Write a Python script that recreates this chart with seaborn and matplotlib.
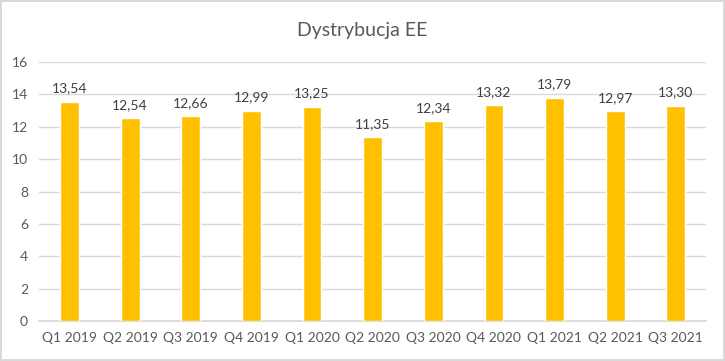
import matplotlib
matplotlib.use("Agg")
import matplotlib.pyplot as plt
import seaborn as sns
import pandas as pd

quarters = ["Q1 2019", "Q2 2019", "Q3 2019", "Q4 2019", "Q1 2020", "Q2 2020",
            "Q3 2020", "Q4 2020", "Q1 2021", "Q2 2021", "Q3 2021"]
values = [13.54, 12.54, 12.66, 12.99, 13.25, 11.35, 12.34, 13.32, 13.79, 12.97, 13.30]
y_ticks = [0, 2, 4, 6, 8, 10, 12, 14, 16]

sns.set_theme(style="white")
plt.rcParams["font.family"] = ["Lato", "DejaVu Sans"]

df = pd.DataFrame({"Kwartal": quarters, "Wartosc": values})

fig = plt.figure(figsize=(7.25, 3.61), dpi=100)
fig.patch.set_edgecolor("#D9D9D9")
fig.patch.set_linewidth(1.5)
ax = fig.add_axes([0.054, 0.111, 0.92, 0.717])

sns.barplot(data=df, x="Kwartal", y="Wartosc", color="#FFC000", width=0.31,
            saturation=1, ax=ax, zorder=3)

for i, v in enumerate(values):
    ax.text(i, v + 0.45, f"{v:.2f}".replace(".", ","), ha="center", va="bottom",
            fontsize=10, color="#404040")

ax.set_ylim(0, 16)
ax.set_yticks(y_ticks)
ax.yaxis.grid(True, color="#D9D9D9", linewidth=1, zorder=0)
ax.tick_params(axis="both", length=0, labelsize=10, colors="#595959", pad=8)
ax.set_xlabel("")
ax.set_ylabel("")
for s in ["top", "right", "left"]:
    ax.spines[s].set_visible(False)
ax.spines["bottom"].set_color("#D9D9D9")

fig.text(0.5, 0.915, "Dystrybucja EE", ha="center", va="center",
         fontsize=14, color="#595959")

fig.savefig("out.png", dpi=100, edgecolor=fig.get_edgecolor())
